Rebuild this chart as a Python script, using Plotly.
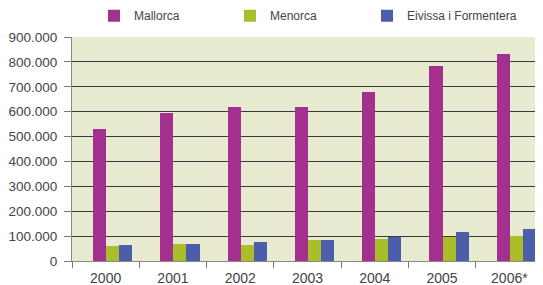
import plotly.graph_objects as go

years = ["2000", "2001", "2002", "2003", "2004", "2005", "2006*"]
mallorca = [531000, 596000, 619000, 619000, 680000, 785000, 833000]
menorca = [62000, 67000, 66000, 83000, 87000, 96000, 99000]
eivissa = [63000, 67000, 78000, 83000, 96000, 115000, 127000]

names = ["Mallorca", "Menorca", "Eivissa i Formentera"]
colors = ["#A3308F", "#A9BE28", "#4C5EAA"]
series = [mallorca, menorca, eivissa]

bw = 0.194
offsets = [-0.187, 0.007, 0.201]
legend_ids = ["legend", "legend2", "legend3"]
legend_x = [86, 222, 359]

fig = go.Figure()
for name, col, vals, off, lg in zip(names, colors, series, offsets, legend_ids):
    fig.add_trace(go.Bar(x=years, y=vals, name=name, marker_color=col,
                         marker_line_width=0, width=bw, offset=off, legend=lg))

legend_style = dict(orientation="h", xref="container", y=1.16, yref="paper",
                    yanchor="top", xanchor="left",
                    font=dict(family="Liberation Sans", size=12, color="#444444"),
                    itemwidth=30, bgcolor="rgba(0,0,0,0)")

# page body has an 8px default margin, so the figure is drawn 8px in
fig.update_layout(
    width=535, height=277,
    margin=dict(l=64, r=0, t=29, b=24, autoexpand=False),
    paper_bgcolor="white",
    plot_bgcolor="#E8EBCF",
    separators=",.",
    font=dict(family="Liberation Sans", size=14, color="#444444"),
    showlegend=True,
    legend=dict(x=legend_x[0] / 535, **legend_style),
    legend2=dict(x=legend_x[1] / 535, **legend_style),
    legend3=dict(x=legend_x[2] / 535, **legend_style),
    bargap=0,
)
fig.update_xaxes(type="category", tickson="boundaries", ticks="outside", ticklen=6,
                 tickcolor="#777777", showline=True, linecolor="#888888", linewidth=1,
                 showgrid=False, tickfont=dict(size=14), ticklabelstandoff=4)
fig.update_yaxes(range=[0, 900000], tickvals=[0, 100000, 200000, 300000, 400000, 500000,
                                               600000, 700000, 800000, 900000],
                 tickformat=",d", ticks="outside", ticklen=7, tickcolor="#777777",
                 showline=True, linecolor="#888888", linewidth=1,
                 showgrid=True, gridcolor="#3a3a3a", gridwidth=1,
                 zeroline=False, tickfont=dict(size=13.5), ticklabelstandoff=4)

fig.write_html("out.html")
